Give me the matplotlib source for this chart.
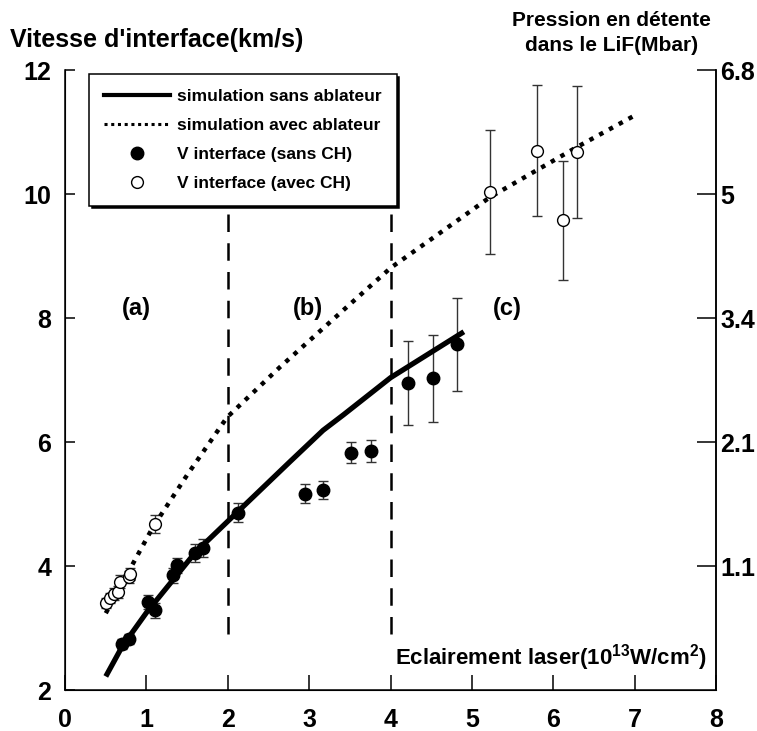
import matplotlib
matplotlib.use('Agg')
import matplotlib.pyplot as plt
from matplotlib.lines import Line2D

plt.rcParams['font.family'] = ['Liberation Sans', 'DejaVu Sans']
plt.rcParams['font.weight'] = 'bold'
plt.rcParams['mathtext.fontset'] = 'custom'
plt.rcParams['mathtext.rm'] = 'Liberation Sans:bold'
plt.rcParams['mathtext.bf'] = 'Liberation Sans:bold'

# simulation curves
sim_sans_x = [0.5, 0.7, 1.0, 1.6, 2.1, 2.76, 3.17, 3.42, 4.0, 4.9]
sim_sans_y = [2.22, 2.70, 3.25, 4.22, 4.85, 5.68, 6.19, 6.44, 7.04, 7.78]
sim_avec_x = [0.5, 1.08, 1.5, 1.99, 2.64, 3.42, 4.0, 4.57, 5.22, 6.29, 7.0]
sim_avec_y = [3.24, 4.63, 5.47, 6.4, 7.21, 8.13, 8.81, 9.34, 9.95, 10.76, 11.27]

# measured interface velocity, without ablator
sans_x = [0.70, 0.79, 1.02, 1.10, 1.32, 1.38, 1.60, 1.69, 2.12, 2.95, 3.17, 3.51, 3.76, 4.21, 4.52, 4.82]
sans_y = [2.75, 2.83, 3.42, 3.29, 3.85, 4.01, 4.21, 4.29, 4.86, 5.17, 5.23, 5.83, 5.86, 6.95, 7.03, 7.58]
sans_err = [0.08, 0.08, 0.12, 0.12, 0.12, 0.12, 0.14, 0.14, 0.15, 0.15, 0.15, 0.17, 0.18, 0.68, 0.70, 0.75]

# measured interface velocity, with CH ablator
avec_x = [0.50, 0.55, 0.60, 0.65, 0.68, 0.78, 0.80, 1.10, 5.22, 5.80, 6.12, 6.29]
avec_y = [3.40, 3.48, 3.55, 3.58, 3.75, 3.82, 3.87, 4.68, 10.04, 10.70, 9.58, 10.68]
avec_err = [0.08, 0.08, 0.10, 0.10, 0.10, 0.10, 0.10, 0.14, 1.00, 1.06, 0.96, 1.06]

# right axis (pressure) labels
right_ticks = [4, 6, 8, 10, 12]
right_labels = ['1.1', '2.1', '3.4', '5', '6.8']

regions = [(0.88, '(a)'), (2.99, '(b)'), (5.43, '(c)')]

fig = plt.figure(figsize=(7.57, 7.31), dpi=100)
ax = fig.add_axes([0.086, 0.056, 0.860, 0.848])
ax.set_xlim(0, 8)
ax.set_ylim(2, 12)

# region separators
for xv in (2, 4):
    ax.plot([xv, xv], [2.9, 9.7], color='black', lw=1.8, ls=(0, (7, 4.5)), zorder=1)

ax.errorbar(sans_x, sans_y, yerr=sans_err, fmt='none', ecolor='#333333',
            elinewidth=1, capsize=3.3, capthick=1, zorder=2)
ax.errorbar(avec_x, avec_y, yerr=avec_err, fmt='none', ecolor='#333333',
            elinewidth=1, capsize=3.3, capthick=1, zorder=2)

ax.plot(sim_sans_x, sim_sans_y, color='black', lw=3.8, solid_capstyle='butt', zorder=3)
ax.plot(sim_avec_x, sim_avec_y, color='black', lw=3.2, ls=(0, (1, 1.5)), zorder=3)

ax.plot(sans_x, sans_y, 'o', color='black', ms=9, zorder=4)
ax.plot(avec_x, avec_y, 'o', mfc='white', mec='black', mew=1, ms=8.5, zorder=4)

for xv, lab in regions:
    ax.text(xv, 8.15, lab, ha='center', va='center', fontsize=17, fontweight='bold')

ax.text(0.986, 0.053, 'Eclairement laser(10$^{13}$W/cm$^{2}$)', transform=ax.transAxes,
        ha='right', va='center', fontsize=16, fontweight='bold')

ax.spines['top'].set_visible(False)
for s in ('left', 'bottom', 'right'):
    ax.spines[s].set_linewidth(1.1)
ax.set_xticks(range(0, 9))
ax.set_yticks([2, 4, 6, 8, 10, 12])
ax.tick_params(axis='x', direction='in', length=11, width=1.1, labelsize=18, pad=13)
ax.tick_params(axis='y', direction='in', length=7, width=1.1, labelsize=18, pad=10)

ax2 = ax.twinx()
ax2.set_ylim(2, 12)
ax2.set_yticks(right_ticks)
ax2.set_yticklabels(right_labels)
ax2.spines['top'].set_visible(False)
ax2.spines['right'].set_linewidth(1.1)
ax2.tick_params(axis='y', direction='in', length=14, width=1.1, labelsize=18, pad=3)

handles = [
    Line2D([], [], color='black', lw=3),
    Line2D([], [], color='black', lw=2.2, ls=(0, (1, 1.2))),
    Line2D([], [], marker='o', ls='none', color='black', ms=9),
    Line2D([], [], marker='o', ls='none', mfc='white', mec='black', mew=1, ms=8.5),
]
labels = ['simulation sans ablateur', 'simulation avec ablateur',
          'V interface (sans CH)', 'V interface (avec CH)']
leg = ax.legend(handles, labels, loc='upper left', bbox_to_anchor=(0.037, 0.994),
                borderaxespad=0, fancybox=False, framealpha=1, edgecolor='black',
                handlelength=3.8, handletextpad=0.42, labelspacing=0.8, borderpad=0.85,
                prop={'size': 12.5, 'weight': 'bold'},
                shadow={'color': 'black', 'alpha': 1})
leg.get_frame().set_linewidth(1.1)
leg.set_zorder(10)

fig.text(0.013, 0.945, "Vitesse d'interface(km/s)", ha='left', va='center',
         fontsize=18, fontweight='bold')
fig.text(0.808, 0.955, 'Pression en détente\ndans le LiF(Mbar)', ha='center', va='center',
         fontsize=15, fontweight='bold', linespacing=1.45)

fig.savefig('out.png', dpi=100)
